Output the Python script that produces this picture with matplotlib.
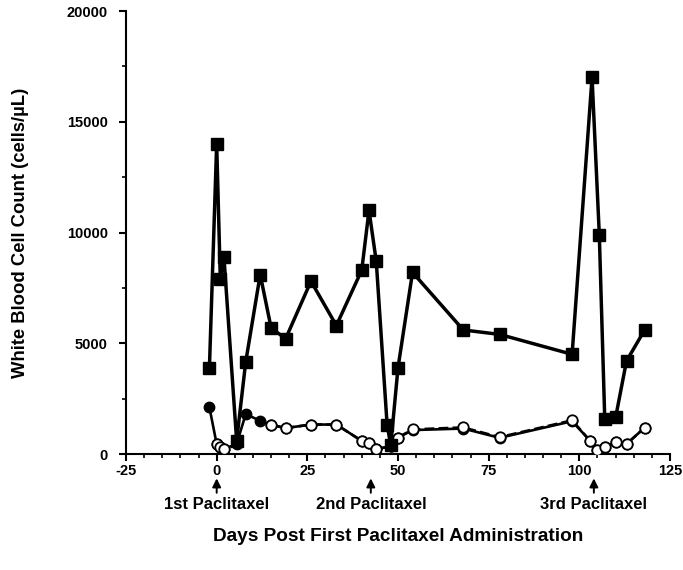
import numpy as np
import matplotlib
matplotlib.use('Agg')
import matplotlib.pyplot as plt
from matplotlib.ticker import MultipleLocator

plt.rcParams['font.family'] = ['Liberation Sans', 'DejaVu Sans']
plt.rcParams['font.weight'] = 'bold'
plt.rcParams['axes.unicode_minus'] = False

# total WBC (filled squares)
wbc_days = [-2, 0, 1, 2, 5.5, 8, 12, 15, 19, 26, 33, 40, 42, 44, 47, 48, 50, 54, 68, 78, 98, 103.5, 105.5, 107, 110, 113, 118]
wbc_vals = [3900, 14000, 7900, 8900, 600, 4150, 8100, 5700, 5200, 7800, 5800, 8300, 11000, 8700, 1300, 400, 3900, 8200, 5600, 5400, 4500, 17000, 9900, 1600, 1650, 4200, 5600]

# filled circles, solid line
sub1_days = [-2, 0, 1, 2, 5.5, 8, 12, 15, 19, 26, 33, 40, 42, 44, 48, 50, 54, 68, 78, 98, 103, 105, 107, 110, 113, 118]
sub1_vals = [2100, 450, 330, 230, 450, 1800, 1500, 1320, 1170, 1330, 1330, 590, 480, 220, 350, 740, 1080, 1150, 730, 1480, 590, 180, 300, 540, 450, 1190]

# open circles, dashed line (gap where no reading)
sub2_days = [0, 1, 2, 8, 15, 19, 26, 33, 40, 42, 44, 48, 50, 54, 68, 78, 98, 103, 105, 107, 110, 113, 118]
sub2_vals = [450, 330, 230, np.nan, 1320, 1170, 1330, 1330, 590, 480, 220, 350, 740, 1110, 1200, 760, 1520, 590, 180, 300, 540, 450, 1190]

arrow_days = [0, 42.5, 104]
arrow_labels = ['1st Paclitaxel', '2nd Paclitaxel', '3rd Paclitaxel']

fig = plt.figure(figsize=(6.83, 5.70), dpi=100)
ax = fig.add_axes([0.1845, 0.2035, 0.7965, 0.7772])

ax.plot(sub1_days, sub1_vals, '-', color='black', lw=1.9, marker='o', ms=7.5,
        mfc='black', mec='black', zorder=2)
ax.plot(sub2_days, sub2_vals, '--', color='black', lw=1.9, marker='o', ms=7.5,
        mfc='white', mec='black', mew=1.3, zorder=3)
ax.plot(wbc_days, wbc_vals, '-', color='black', lw=2.5, marker='s', ms=8,
        mfc='black', mec='black', zorder=4)

ax.set_xlim(-25, 125)
ax.set_ylim(0, 20000)
ax.xaxis.set_major_locator(MultipleLocator(25))
ax.xaxis.set_minor_locator(MultipleLocator(5))
ax.yaxis.set_major_locator(MultipleLocator(5000))
ax.yaxis.set_minor_locator(MultipleLocator(2500))
for s in ['top', 'right']:
    ax.spines[s].set_visible(False)
for s in ['left', 'bottom']:
    ax.spines[s].set_linewidth(1.5)
ax.tick_params(which='major', direction='out', length=5, width=1.5, labelsize=10.5)
ax.tick_params(which='minor', direction='out', length=3, width=1.2)
ax.tick_params(axis='y', pad=8)
ax.tick_params(axis='x', pad=2)
for lab in ax.get_xticklabels() + ax.get_yticklabels():
    lab.set_fontweight('bold')

ax.set_ylabel('White Blood Cell Count (cells/µL)', fontsize=13.3, fontweight='bold', labelpad=27)
ax.set_xlabel('Days Post First Paclitaxel Administration', fontsize=13.7, fontweight='bold', labelpad=36)

for d, lab in zip(arrow_days, arrow_labels):
    ax.annotate('', xy=(d, -1100), xytext=(d, -1750), xycoords='data',
                arrowprops=dict(arrowstyle='-|>,head_length=0.5,head_width=0.25',
                                color='black', lw=1.4, mutation_scale=10,
                                shrinkA=0, shrinkB=0),
                annotation_clip=False)
    ax.text(d, -2270, lab, ha='center', va='center', fontsize=12, fontweight='bold')

fig.savefig('out.png', dpi=100)
